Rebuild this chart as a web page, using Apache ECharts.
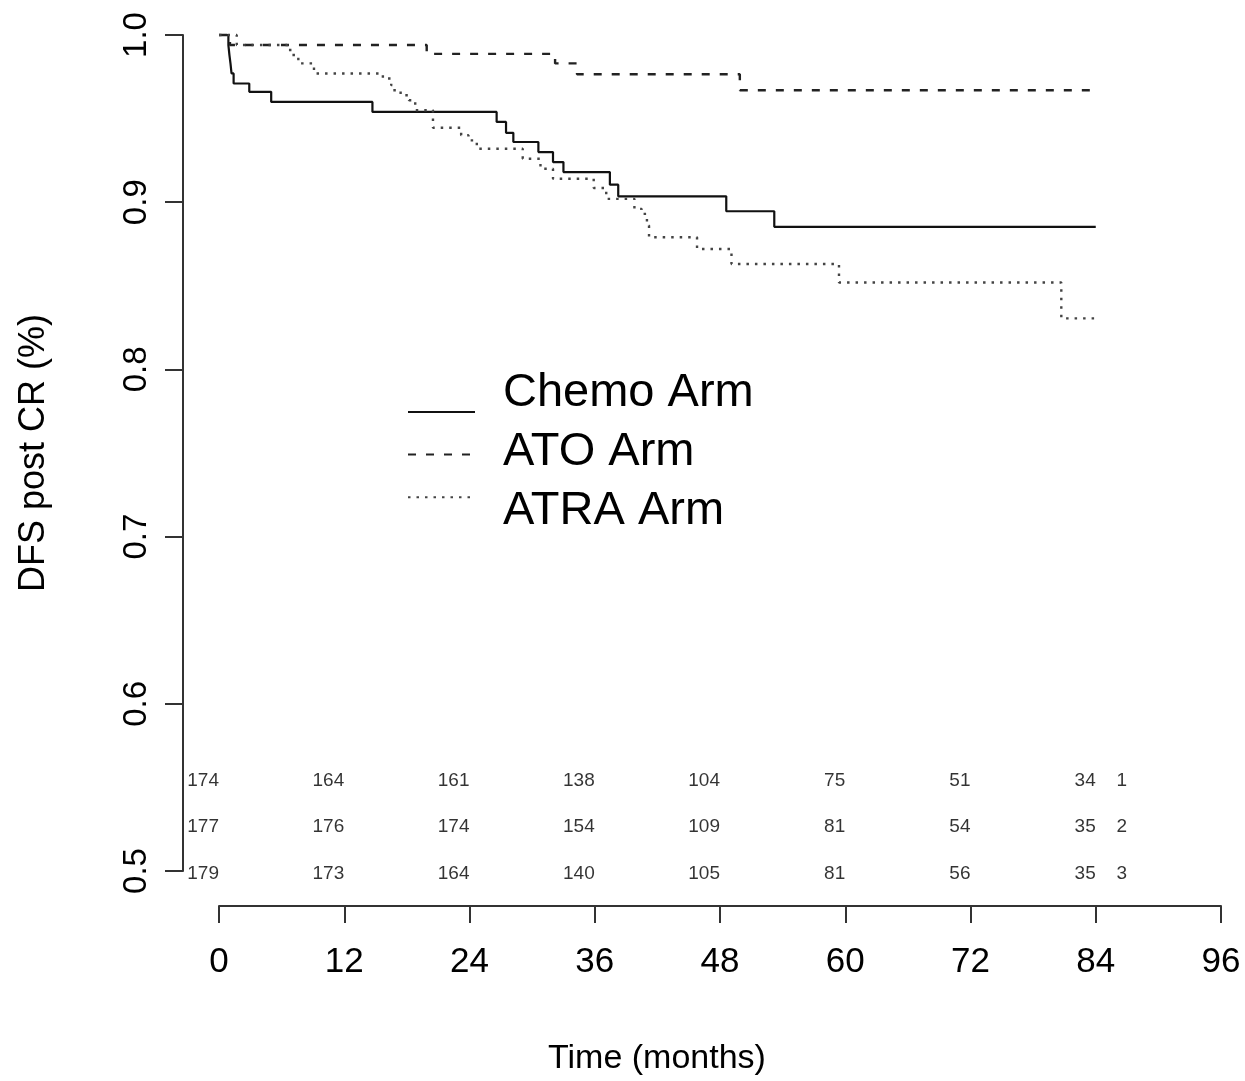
<!DOCTYPE html>
<html><head><meta charset="utf-8">
<script src="https://cdn.jsdelivr.net/npm/echarts@6/dist/echarts.min.js"></script>
<style>html,body{margin:0;padding:0;background:#fff}#c{width:1245px;height:1081px}</style>
</head><body><div id="c"></div>
<script>
// ---------------- data ----------------
const seriesNames = ['Chemo Arm', 'ATO Arm', 'ATRA Arm'];

const chemoTime = [0, 0.9, 1.0, 1.1, 1.2, 1.4, 2.9, 5.0, 14.7, 26.6, 27.5, 28.2, 30.6, 32.0, 33.0, 37.45, 38.25, 48.6, 53.2, 84];
const chemoSurv = [1.0, 0.994, 0.988, 0.983, 0.977, 0.971, 0.966, 0.960, 0.954, 0.948, 0.9415, 0.936, 0.930, 0.924, 0.918, 0.9105, 0.9035, 0.8946, 0.8853, 0.8853];

const atoTime = [0, 1.05, 19.9, 32.2, 34.3, 49.9, 84];
const atoSurv = [1.0, 0.994, 0.9887, 0.983, 0.9765, 0.967, 0.967];

const atraTime = [0, 1.7, 6.5, 7.0, 7.6, 9.1, 15.7, 16.5, 16.7, 17.4, 18.2, 18.8, 20.5, 23.2, 23.9, 24.7, 29.1, 30.8, 32.0, 35.9, 37.1, 39.8, 40.5, 41.0, 41.2, 45.8, 49.1, 59.4, 80.7, 84];
const atraSurv = [1.0, 0.994, 0.991, 0.988, 0.983, 0.977, 0.974, 0.970, 0.967, 0.964, 0.961, 0.955, 0.9445, 0.940, 0.937, 0.932, 0.926, 0.920, 0.914, 0.9085, 0.902, 0.896, 0.893, 0.886, 0.879, 0.872, 0.863, 0.852, 0.8305, 0.8305];

const riskTimes = [0, 12, 24, 36, 48, 60, 72, 84];
const riskChemo = [174, 164, 161, 138, 104, 75, 51, 34];
const riskATO   = [177, 176, 174, 154, 109, 81, 54, 35];
const riskATRA  = [179, 173, 164, 140, 105, 81, 56, 35];
const strataLabels = ['1', '2', '3'];

const xTicks = [0, 12, 24, 36, 48, 60, 72, 84, 96];
const yTicks = [0.5, 0.6, 0.7, 0.8, 0.9, 1.0];

const xTitle = 'Time (months)';
const yTitle = 'DFS post CR (%)';

// ---------------- chart ----------------
const FONT = '"Liberation Sans", Arial, Helvetica, sans-serif';
const zip = (a, b) => a.map((v, i) => [v, b[i]]);

const curveStyles = [
  { color: '#111', width: 2.2, type: 'solid' },
  { color: '#222', width: 2.4, type: [8, 10] },
  { color: '#444', width: 2.4, type: [2.5, 6] }
];
const curveData = [zip(chemoTime, chemoSurv), zip(atoTime, atoSurv), zip(atraTime, atraSurv)];

const series = curveData.map((d, i) => ({
  name: seriesNames[i],
  type: 'line',
  step: 'end',
  data: d,
  symbol: 'none',
  showSymbol: false,
  clip: false,
  silent: true,
  itemStyle: { color: curveStyles[i].color },
  lineStyle: { color: curveStyles[i].color, width: curveStyles[i].width, type: curveStyles[i].type }
}));

// numbers at risk rows (row levels placed in data space of y)
const rowLevels = [0.5542, 0.5262, 0.4982];
const riskRows = [riskChemo, riskATO, riskATRA];
const riskData = [];
riskRows.forEach((row, r) => {
  row.forEach((n, k) => riskData.push([riskTimes[k], rowLevels[r], String(n)]));
  riskData.push([87, rowLevels[r], strataLabels[r]]);
});
series.push({
  type: 'scatter',
  data: riskData,
  symbolSize: 0,
  silent: true,
  clip: false,
  label: {
    show: true,
    position: 'inside',
    align: 'right',
    verticalAlign: 'middle',
    formatter: p => p.value[2],
    fontFamily: FONT,
    fontSize: 19,
    color: '#000'
  }
});

const chart = echarts.init(document.getElementById('c'), null, { renderer: 'canvas' });
chart.setOption({
  animation: false,
  backgroundColor: '#fff',
  grid: { left: 219, right: 24, top: 35, bottom: 208, containLabel: false },
  xAxis: {
    type: 'value',
    min: xTicks[0], max: xTicks[xTicks.length - 1], interval: 12,
    position: 'bottom',
    offset: 35,
    splitLine: { show: false },
    axisLine: { show: true, onZero: false, lineStyle: { color: '#333', width: 2 } },
    axisTick: { show: true, inside: false, length: 17, lineStyle: { color: '#333', width: 2 } },
    axisLabel: { fontFamily: FONT, fontSize: 35, color: '#000', margin: 39 },
    name: xTitle,
    nameLocation: 'middle',
    nameGap: 136,
    nameTextStyle: { fontFamily: FONT, fontSize: 34, color: '#000', padding: [0, 126, 0, 0] }
  },
  yAxis: {
    type: 'value',
    min: yTicks[0], max: yTicks[yTicks.length - 1], interval: 0.1,
    position: 'left',
    offset: 36,
    splitLine: { show: false },
    axisLine: { show: true, onZero: false, lineStyle: { color: '#333', width: 2 } },
    axisTick: { show: true, inside: false, length: 18, lineStyle: { color: '#333', width: 2 } },
    axisLabel: { fontFamily: FONT, fontSize: 33, color: '#000', margin: 30, rotate: 90, formatter: v => v.toFixed(1) },
    name: yTitle,
    nameLocation: 'middle',
    nameRotate: 90,
    nameGap: 131,
    nameTextStyle: { fontFamily: FONT, fontSize: 36, color: '#000' }
  },
  legend: [
    {
      data: seriesNames,
      orient: 'vertical',
      left: 407, top: 405,
      padding: 0,
      itemWidth: 67, itemHeight: 14, itemGap: 30,
      selectedMode: false,
      formatter: () => '',
      itemStyle: { opacity: 0 },
      textStyle: { fontSize: 8 }
    },
    {
      data: seriesNames,
      orient: 'vertical',
      left: 497, top: 370,
      padding: 0,
      itemWidth: 0, itemHeight: 0, itemGap: 12,
      selectedMode: false,
      lineStyle: { opacity: 0 },
      itemStyle: { opacity: 0 },
      textStyle: { fontFamily: FONT, fontSize: 47, color: '#000' }
    }
  ],
  series: series
});
</script>
</body></html>
